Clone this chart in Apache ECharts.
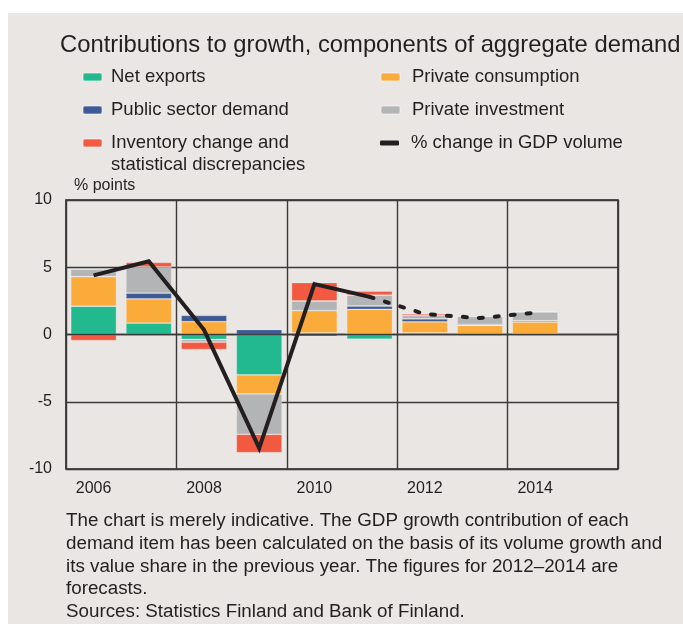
<!DOCTYPE html>
<html lang="en">
<head>
    <meta charset="UTF-8">
    <title>Contributions to growth</title>
    <style>
        html,body{margin:0;padding:0;background:#fff;}
        #main{width:683px;height:630px;}
    </style>
</head>
<body>
<div id="main"></div>
<script src="https://cdn.jsdelivr.net/npm/echarts@6/dist/echarts.min.js"></script>
<script>
// years on the x axis (2015 left empty, as in the original)
const years = ['2006','2007','2008','2009','2010','2011','2012','2013','2014','2015'];

// contributions, % points
const netExports   = [2.1, 0.85, -0.37, -3.0, 0.12, -0.35, 0.12, -0.12, 0.03];
const consumption  = [2.2, 1.8, 0.95, -1.42, 1.65, 1.87, 0.82, 0.67, 0.9];
const publicDemand = [0, 0.42, 0.47, 0.37, -0.15, 0.25, 0.22, 0.08, 0.1];
const investment   = [0.55, 1.96, -0.2, -3.0, 0.72, 0.8, 0.25, 0.6, 0.65];
const inventory    = [-0.45, 0.33, -0.55, -1.37, 1.37, 0.3, 0.12, 0, 0];

// % change in GDP volume: outturn and forecast
const gdpActual   = [4.4, 5.45, 0.35, -8.45, 3.75, 2.8, null, null, null];
const gdpForecast = [null, null, null, null, null, 2.8, 1.52, 1.22, 1.62];

const yTicks = [-10, -5, 0, 5, 10];

const ink = '#231f20';
const font = 'Liberation Sans, Arial, sans-serif';

const names = {
    net: 'Net exports',
    pub: 'Public sector demand',
    inv: 'Inventory change and\nstatistical discrepancies',
    con: 'Private consumption',
    pri: 'Private investment',
    gdp: '% change in GDP volume'
};

const myChart = echarts.init(document.getElementById('main'));

// one legend per row so each sits where it does in the original
function legendRow(name, left, top, padLeft, extra) {
    return Object.assign({
        data: [name],
        left: left,
        top: top,
        padding: 0,
        itemWidth: 19,
        itemHeight: 8,
        itemGap: 0,
        selectedMode: false,
        textStyle: {fontSize: 18.5, lineHeight: 22, color: ink, fontFamily: font, padding: [0, 0, 0, padLeft]}
    }, extra || {});
}

function barSeries(name, data, color) {
    return {
        name: name,
        type: 'bar',
        stack: 'total',
        data: data,
        barCategoryGap: '17%',
        itemStyle: {color: color, borderColor: 'rgba(255,255,255,0.3)', borderWidth: 0.8}
    };
}

const option = {
    backgroundColor: '#fff',
    textStyle: {fontFamily: font},
    graphic: [{
        type: 'rect',
        z: -100,
        silent: true,
        shape: {x: 8, y: 13, width: 675, height: 611},
        style: {fill: '#e9e6e3'}
    }],
    title: [
        {
            text: 'Chart 1',
            left: 10, top: -13, padding: 0,
            textStyle: {fontSize: 15, fontWeight: 'normal', color: '#9a9a9a', fontFamily: font}
        },
        {
            text: 'Contributions to growth, components of aggregate demand',
            left: 60, top: 33, padding: 0,
            textStyle: {fontSize: 23.8, fontWeight: 'normal', color: ink, fontFamily: font}
        },
        {
            text: 'The chart is merely indicative. The GDP growth contribution of each\n' +
                  'demand item has been calculated on the basis of its volume growth and\n' +
                  'its value share in the previous year. The figures for 2012\u20132014 are\n' +
                  'forecasts.\n' +
                  'Sources: Statistics Finland and Bank of Finland.',
            left: 66, top: 510, padding: 0,
            textStyle: {fontSize: 18.8, lineHeight: 22.6, fontWeight: 'normal', color: ink, fontFamily: font}
        }
    ],
    legend: [
        legendRow(names.net, 82, 66, 4),
        legendRow(names.pub, 82, 99, 4),
        // blank first line keeps the icon level with "Inventory change and"
        legendRow(names.inv, 82, 110, 4, {formatter: function (n) { return ' \n' + n; }}),
        legendRow(names.con, 380, 66, 7),
        legendRow(names.pri, 380, 99, 7),
        legendRow(names.gdp, 380, 132, 7, {
            data: [{name: names.gdp, icon: 'roundRect', itemStyle: {color: ink}}],
            itemHeight: 5
        })
    ],
    grid: {
        left: 66, right: 65, top: 200, bottom: 161,
        show: true,
        borderColor: ink,
        borderWidth: 1.6
    },
    xAxis: [
        {
            type: 'category',
            data: years,
            position: 'bottom',
            boundaryGap: true,
            axisLine: {show: false, onZero: false},
            axisTick: {show: false},
            axisLabel: {interval: 1, fontSize: 16, color: ink, margin: 12, fontFamily: font},
            splitLine: {show: true, interval: 1, lineStyle: {color: '#3a3a3a', width: 1.4}}
        },
        {
            // the zero line, drawn over the bars
            type: 'category',
            data: years,
            position: 'top',
            z: 5,
            axisLine: {show: true, onZero: true, lineStyle: {color: '#3a3a3a', width: 1.4}},
            axisTick: {show: false},
            axisLabel: {show: false},
            splitLine: {show: false}
        }
    ],
    yAxis: {
        type: 'value',
        min: yTicks[0],
        max: yTicks[yTicks.length - 1],
        interval: 5,
        name: '% points',
        nameLocation: 'end',
        nameGap: 14,
        nameTextStyle: {fontSize: 16, color: ink, align: 'left', verticalAlign: 'middle', padding: [0, 0, 0, 8], fontFamily: font},
        axisLine: {show: false},
        axisTick: {show: false},
        axisLabel: {fontSize: 16, color: ink, margin: 14, fontFamily: font},
        splitLine: {show: true, lineStyle: {color: '#3a3a3a', width: 1.4}}
    },
    series: [
        barSeries(names.net, netExports, '#23b98f'),
        barSeries(names.con, consumption, '#fbab3a'),
        barSeries(names.pub, publicDemand, '#3d5a95'),
        barSeries(names.pri, investment, '#b3b4b6'),
        barSeries(names.inv, inventory, '#f15a40'),
        {
            name: names.gdp,
            type: 'line',
            data: gdpActual,
            z: 6,
            symbol: 'none',
            itemStyle: {color: ink},
            lineStyle: {color: ink, width: 4, join: 'miter'}
        },
        {
            name: names.gdp,
            type: 'line',
            data: gdpForecast,
            z: 6,
            symbol: 'none',
            itemStyle: {color: ink},
            lineStyle: {color: ink, width: 4, type: [4, 12], cap: 'round'}
        }
    ]
};

myChart.setOption(option);
</script>
</body>
</html>
